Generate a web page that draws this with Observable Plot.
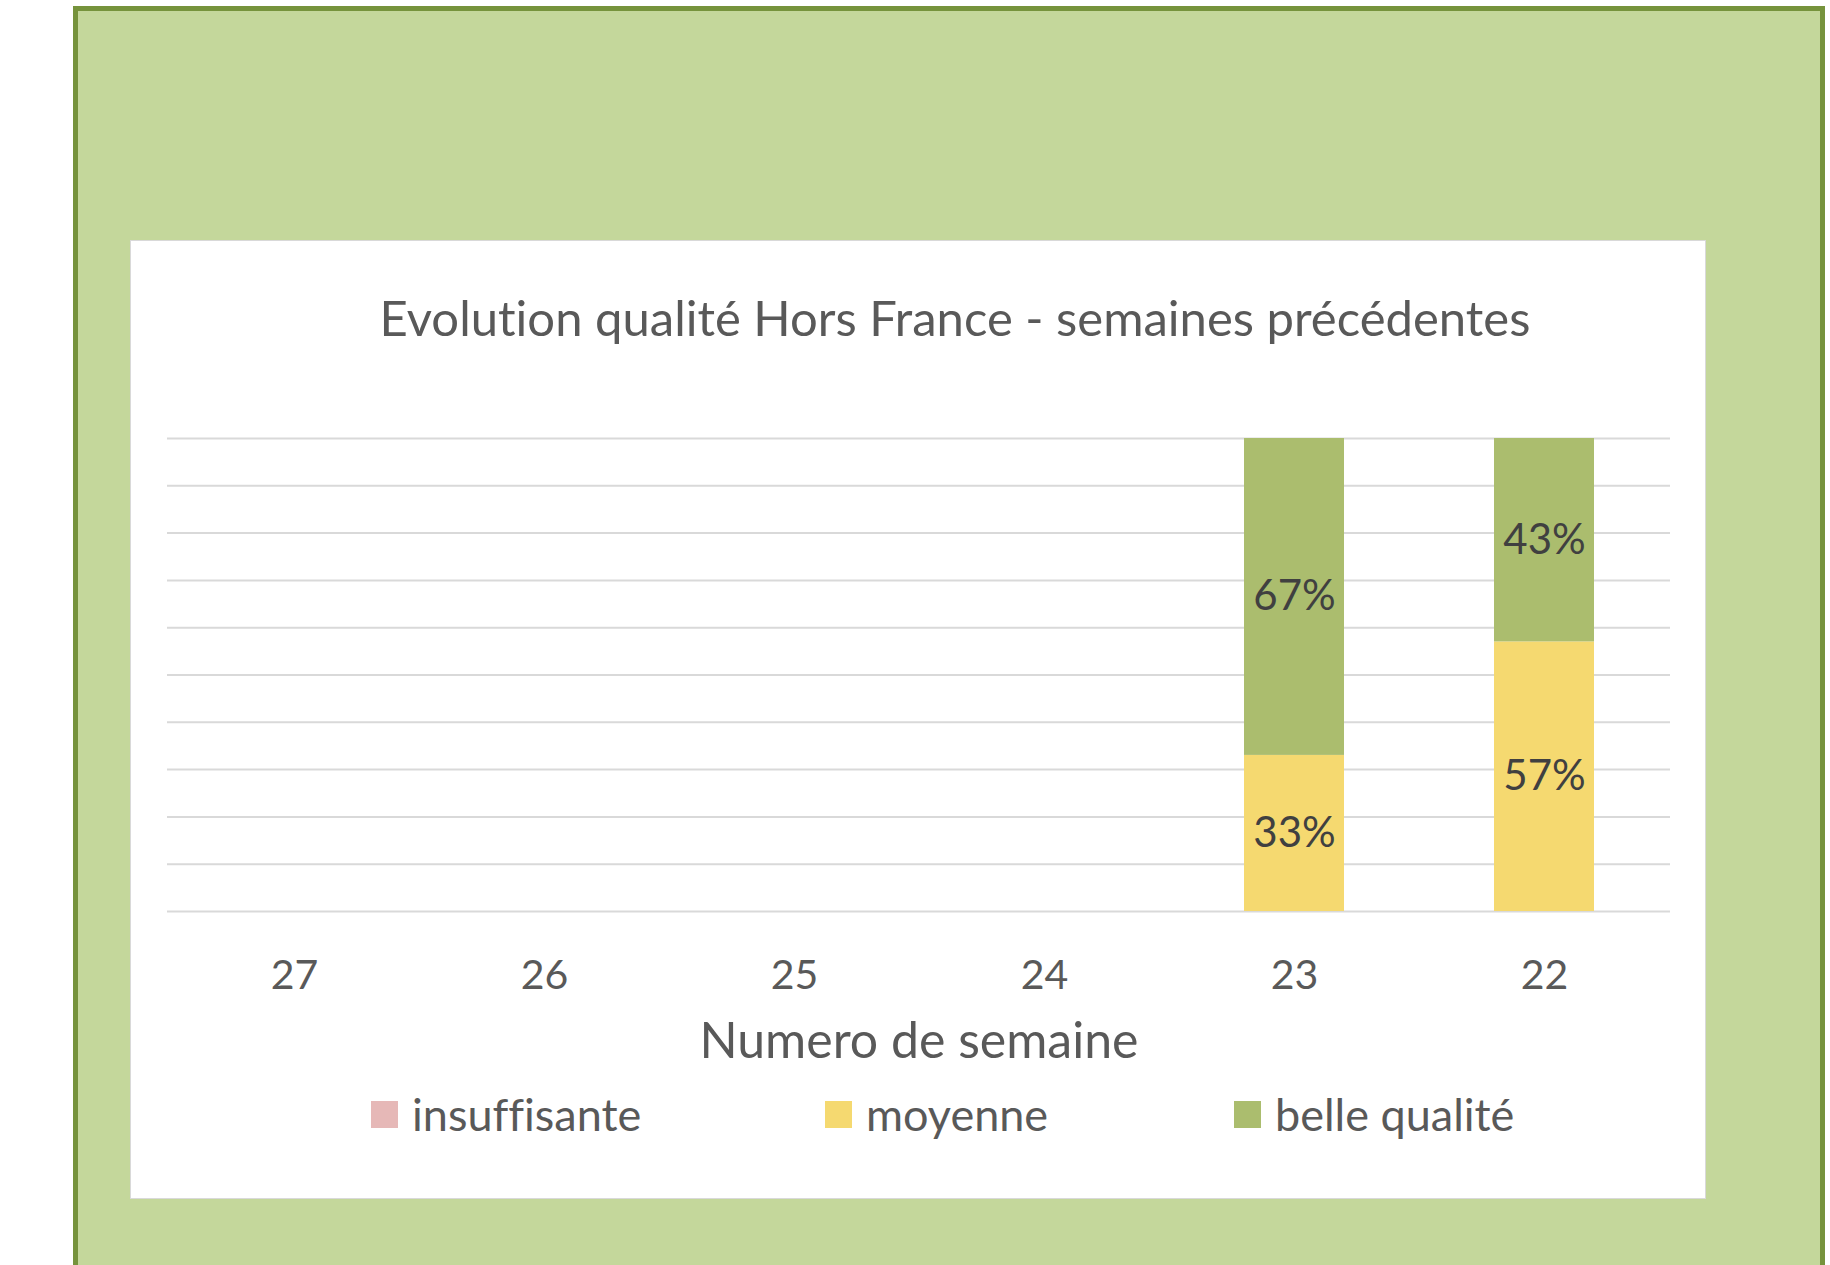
<!DOCTYPE html>
<html>
<head>
<meta charset="utf-8">
<script src="https://cdn.jsdelivr.net/npm/d3@7"></script>
<script src="https://cdn.jsdelivr.net/npm/@observablehq/plot@0.6"></script>
<style>
  html, body { margin: 0; padding: 0; background: #ffffff; width: 1830px; height: 1265px; overflow: hidden; }
  body { position: relative; font-family: Lato, "Open Sans", sans-serif; color: #595959; font-variant-ligatures: none; font-feature-settings: "liga" 0, "clig" 0; }
  svg text { font-variant-ligatures: none; font-feature-settings: "liga" 0, "clig" 0; }
  #panel { position: absolute; left: 73px; top: 6px; width: 1752px; height: 1270px; background: #c4d79b;
           border-top: 5px solid #76933c; border-left: 5px solid #76933c; border-right: 5px solid #76933c; box-sizing: border-box; }
  #card { position: absolute; left: 130px; top: 240px; width: 1576px; height: 959px; background: #ffffff;
          border: 1px solid #d9d9d9; box-sizing: border-box; }
  #title { position: absolute; left: 167px; width: 1576px; top: 293px; text-align: center; font-size: 49px; line-height: 1; }
  #chart { position: absolute; left: 130px; top: 240px; }
  #legend { position: absolute; left: 0; top: 1094px; width: 1830px; height: 40px; }
  .item { position: absolute; top: 0; height: 40px; display: flex; align-items: center; font-size: 45px; }
  .sw { width: 27px; height: 27px; margin-right: 14px; }
</style>
</head>
<body>
<div id="panel"></div>
<div id="card"></div>
<div id="title"></div>
<div id="chart"></div>
<div id="legend"></div>
<script>
const chartTitle = "Evolution qualité Hors France - semaines précédentes";
const xAxisLabel = "Numero de semaine";
const weeks = ["27", "26", "25", "24", "23", "22"];
const seriesNames = ["insuffisante", "moyenne", "belle qualité"];
const seriesColors = ["#e6b8b7", "#f5d970", "#abbd6e"];
const insuffisante = [0, 0, 0, 0, 0, 0];
const moyenne = [0, 0, 0, 0, 0.33, 0.57];
const belleQualite = [0, 0, 0, 0, 0.67, 0.43];
const yTicks = [0, 0.1, 0.2, 0.3, 0.4, 0.5, 0.6, 0.7, 0.8, 0.9, 1];

const seriesValues = [insuffisante, moyenne, belleQualite];
const rows = [];
seriesNames.forEach((s, i) => weeks.forEach((w, j) => rows.push({week: w, series: s, value: seriesValues[i][j]})));
const shown = rows.filter(d => d.value > 0);

document.getElementById("title").textContent = chartTitle;

const chart = Plot.plot({
  width: 1576,
  height: 830,
  marginLeft: 37,
  marginRight: 36,
  marginTop: 198,
  marginBottom: 159,
  style: {fontFamily: "Lato, 'Open Sans', sans-serif", background: "transparent", color: "#595959"},
  x: {domain: weeks, paddingInner: 0.6, paddingOuter: 0.3, label: null},
  y: {domain: [0, 1], label: null},
  color: {domain: seriesNames, range: seriesColors},
  marks: [
    Plot.gridY(yTicks, {stroke: "#d9d9d9", strokeOpacity: 1, strokeWidth: 2}),
    Plot.barY(shown, Plot.stackY({x: "week", y: "value", z: "series", fill: "series", order: seriesNames})),
    Plot.text(shown, Plot.stackY({x: "week", y: "value", z: "series", order: seriesNames,
      text: d => Math.round(d.value * 100) + "%", fill: "#404040", fontSize: 42})),
    Plot.axisX({tickSize: 0, tickPadding: 48, fontSize: 41, fill: "#595959", label: null}),
    Plot.text([xAxisLabel], {frameAnchor: "bottom", dy: 146, fontSize: 50, fill: "#595959"}),
    Plot.axisY({ticks: [], label: null})
  ]
});
document.getElementById("chart").appendChild(chart);

const legendX = [371, 825, 1234];
const legend = document.getElementById("legend");
seriesNames.forEach((s, i) => {
  const it = document.createElement("div");
  it.className = "item";
  it.style.left = legendX[i] + "px";
  const sw = document.createElement("div");
  sw.className = "sw";
  sw.style.background = seriesColors[i];
  const tx = document.createElement("span");
  tx.textContent = s;
  it.appendChild(sw);
  it.appendChild(tx);
  legend.appendChild(it);
});
</script>
</body>
</html>
